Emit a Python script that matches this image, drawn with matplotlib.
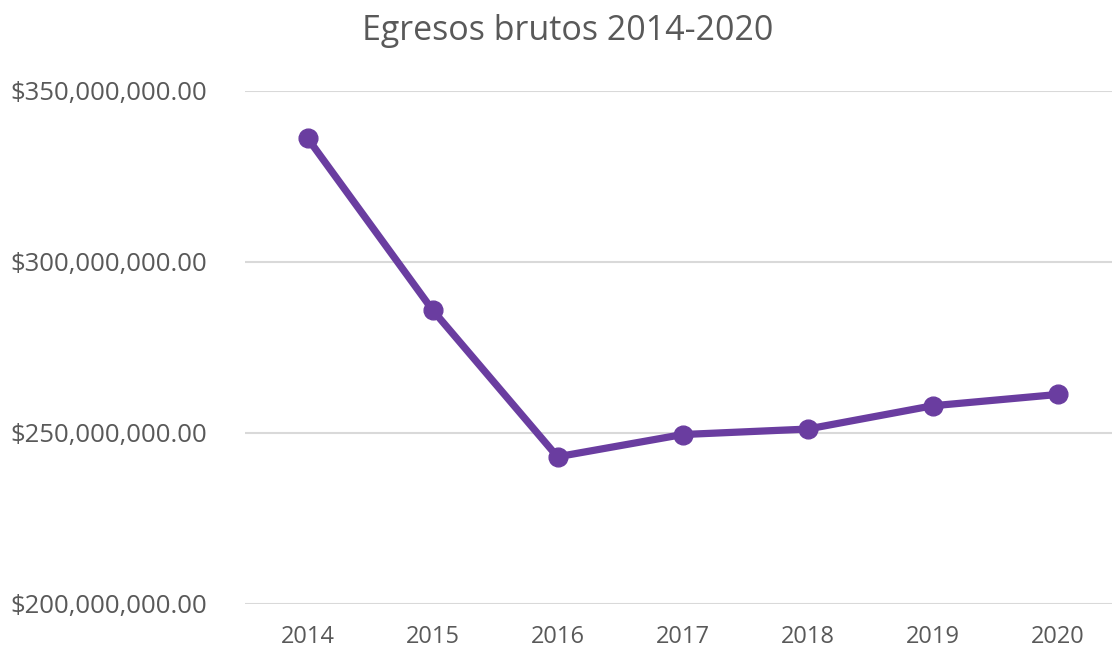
import matplotlib
matplotlib.use("Agg")
import matplotlib.pyplot as plt
from matplotlib.ticker import FuncFormatter, FixedLocator

years = ["2014", "2015", "2016", "2017", "2018", "2019", "2020"]
egresos = [336.1e6, 285.9e6, 243.0e6, 249.5e6, 251.1e6, 257.9e6, 261.2e6]
yticks = [200e6, 250e6, 300e6, 350e6]
title = "Egresos brutos 2014-2020"

plt.rcParams['font.family'] = ['Open Sans', 'DejaVu Sans']
text_color = '#595959'

fig = plt.figure(figsize=(11.12, 6.56), dpi=100)
ax = fig.add_axes([245/1112, (656-604)/656, 875/1112, (604-90.5)/656])

x = list(range(len(years)))
ax.plot(x, egresos, color='#6A3DA0', linewidth=5.2, marker='o', markersize=13.5,
        solid_capstyle='round', zorder=3)

ax.set_xlim(-0.5, len(years) - 0.5)
ax.set_ylim(200e6, 350e6)
ax.yaxis.set_major_locator(FixedLocator(yticks))
ax.yaxis.set_major_formatter(FuncFormatter(lambda v, p: "${:,.2f}".format(v)))
ax.set_xticks(x)
ax.set_xticklabels(years)

for s in ax.spines.values():
    s.set_visible(False)
ax.grid(axis='y', color='#D9D9D9', linewidth=1.5, zorder=0)
ax.tick_params(axis='both', length=0, colors=text_color)
ax.tick_params(axis='y', pad=27, labelsize=18.5)
ax.tick_params(axis='x', pad=15, labelsize=17)

fig.text(568/1112, 1 - 31/656, title, ha='center', va='center', fontsize=24.5,
         color=text_color)

fig.savefig("out.png", dpi=100)
